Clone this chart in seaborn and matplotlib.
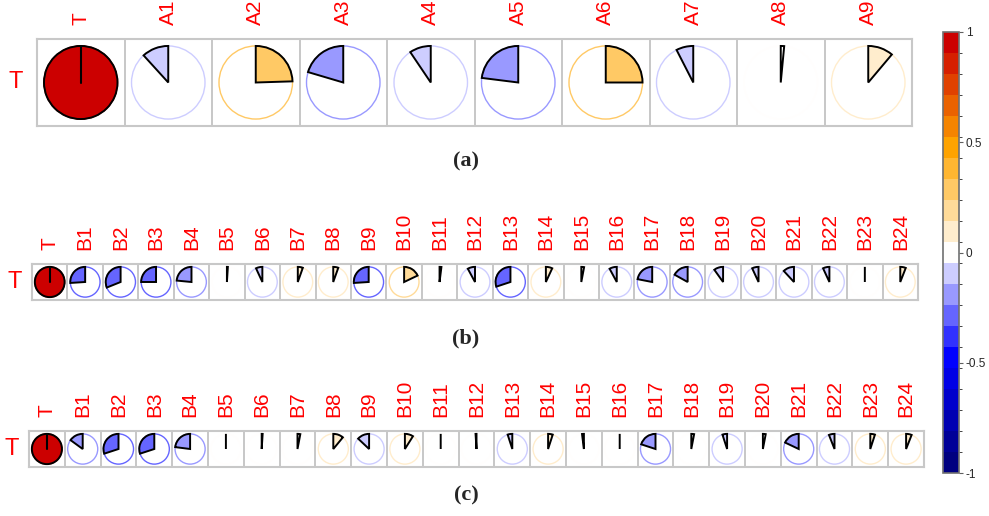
import numpy as np
import pandas as pd
import matplotlib
matplotlib.use("Agg")
import matplotlib.pyplot as plt
import seaborn as sns
from matplotlib.colors import LinearSegmentedColormap, ListedColormap, BoundaryNorm
from matplotlib.patches import Wedge, Circle

# correlations of T with each variable
a_labels = ["T", "A1", "A2", "A3", "A4", "A5", "A6", "A7", "A8", "A9"]
a_corr = [1.0, -0.117, 0.245, -0.204, -0.094, -0.23, 0.25, -0.075, 0.015, 0.111]

b_labels = ["T"] + ["B%d" % i for i in range(1, 25)]
b_corr = [1.0, -0.26, -0.31, -0.25, -0.235, 0.01, -0.07, 0.055, 0.055, -0.26,
          0.18, 0.02, -0.08, -0.30, 0.07, 0.03, -0.08, -0.22, -0.17, -0.10,
          -0.07, -0.12, -0.07, 0.0, 0.06]
c_corr = [1.0, -0.15, -0.30, -0.30, -0.23, 0.0, 0.01, 0.03, 0.11, -0.13,
          0.09, 0.0, -0.01, -0.05, 0.05, -0.02, 0.0, -0.20, 0.03, -0.05,
          0.03, -0.18, -0.06, 0.05, 0.06]

cbar_ticks = [-1, -0.5, 0, 0.5, 1]
cbar_ticklabels = ["-1", "-0.5", "0", "0.5", "1"]

# 21-step palette like corrplot
ramp = LinearSegmentedColormap.from_list(
    "ramp", ["#000080", "#0000FF", "#FFFFFF", "#FFA500", "#CC0000"])
cmap = ListedColormap([ramp(i / 20) for i in range(21)])
norm = BoundaryNorm(np.linspace(-1, 1, 22), 21)

sns.set_style("white")
plt.rcParams["font.family"] = ["Liberation Sans", "DejaVu Sans"]

fig = plt.figure(figsize=(9.89, 5.16), dpi=100)
W, H = 989, 516


def add_ax(x0, y0, x1, y1):
    return fig.add_axes([x0 / W, 1 - y1 / H, (x1 - x0) / W, (y1 - y0) / H])


def pie_row(ax, labels, vals, pad_x, pad_y):
    df = pd.DataFrame([vals], index=["T"], columns=labels)
    sns.heatmap(df, ax=ax, cmap=ListedColormap(["white"]), cbar=False,
                linewidths=1.2, linecolor="#C8C8C8")
    ax.set_ylim(0, 1)
    ax.xaxis.tick_top()
    ax.set_xticks(np.arange(len(labels)) + 0.5)
    ax.set_xticklabels(labels, rotation=90, color="red", fontsize=15)
    ax.set_yticks([0.5])
    ax.set_yticklabels(["T"], rotation=0, color="red", fontsize=17)
    ax.tick_params(axis="x", length=0, pad=pad_x)
    ax.tick_params(axis="y", length=0, pad=pad_y)
    for s in ax.spines.values():
        s.set_visible(True)
        s.set_color("#C8C8C8")
        s.set_linewidth(1.5)
    for i, v in enumerate(vals):
        cx, cy = i + 0.5, 0.5
        col = cmap(norm(v))
        ax.add_patch(Circle((cx, cy), 0.42, fill=False, ec=col, lw=1))
        if v >= 0:
            t1, t2 = 90 - 360 * v, 90
        else:
            t1, t2 = 90, 90 - 360 * v
        if v >= 1:
            t1, t2 = 0, 360
            ax.plot([cx, cx], [cy, cy + 0.42], color="black", lw=1.5)
        ax.add_patch(Wedge((cx, cy), 0.42, t1, t2, fc=col, ec="black", lw=1.4))


ax_a = add_ax(37, 39, 912, 126)
pie_row(ax_a, a_labels, a_corr, 10, 10)

ax_b = add_ax(32, 264, 918, 300)
pie_row(ax_b, b_labels, b_corr, 10, 7)

ax_c = add_ax(29, 431, 924, 467)
pie_row(ax_c, b_labels, c_corr, 10, 7)

for lab, y in [("(a)", 161), ("(b)", 338), ("(c)", 495)]:
    fig.text(466 / W, 1 - y / H, lab, ha="center", va="center",
             fontsize=16, fontweight="bold", family="Liberation Serif")

cax = add_ax(943, 32, 959, 473)
sm = matplotlib.cm.ScalarMappable(norm=norm, cmap=cmap)
cb = fig.colorbar(sm, cax=cax, ticks=cbar_ticks)
cb.ax.set_yticklabels(cbar_ticklabels, fontsize=8.5)
cb.ax.tick_params(length=3, width=0.8, color="#606060", pad=2)
cb.outline.set_edgecolor("#707070")
cb.outline.set_linewidth(1.2)

fig.savefig("out.png", dpi=100)
